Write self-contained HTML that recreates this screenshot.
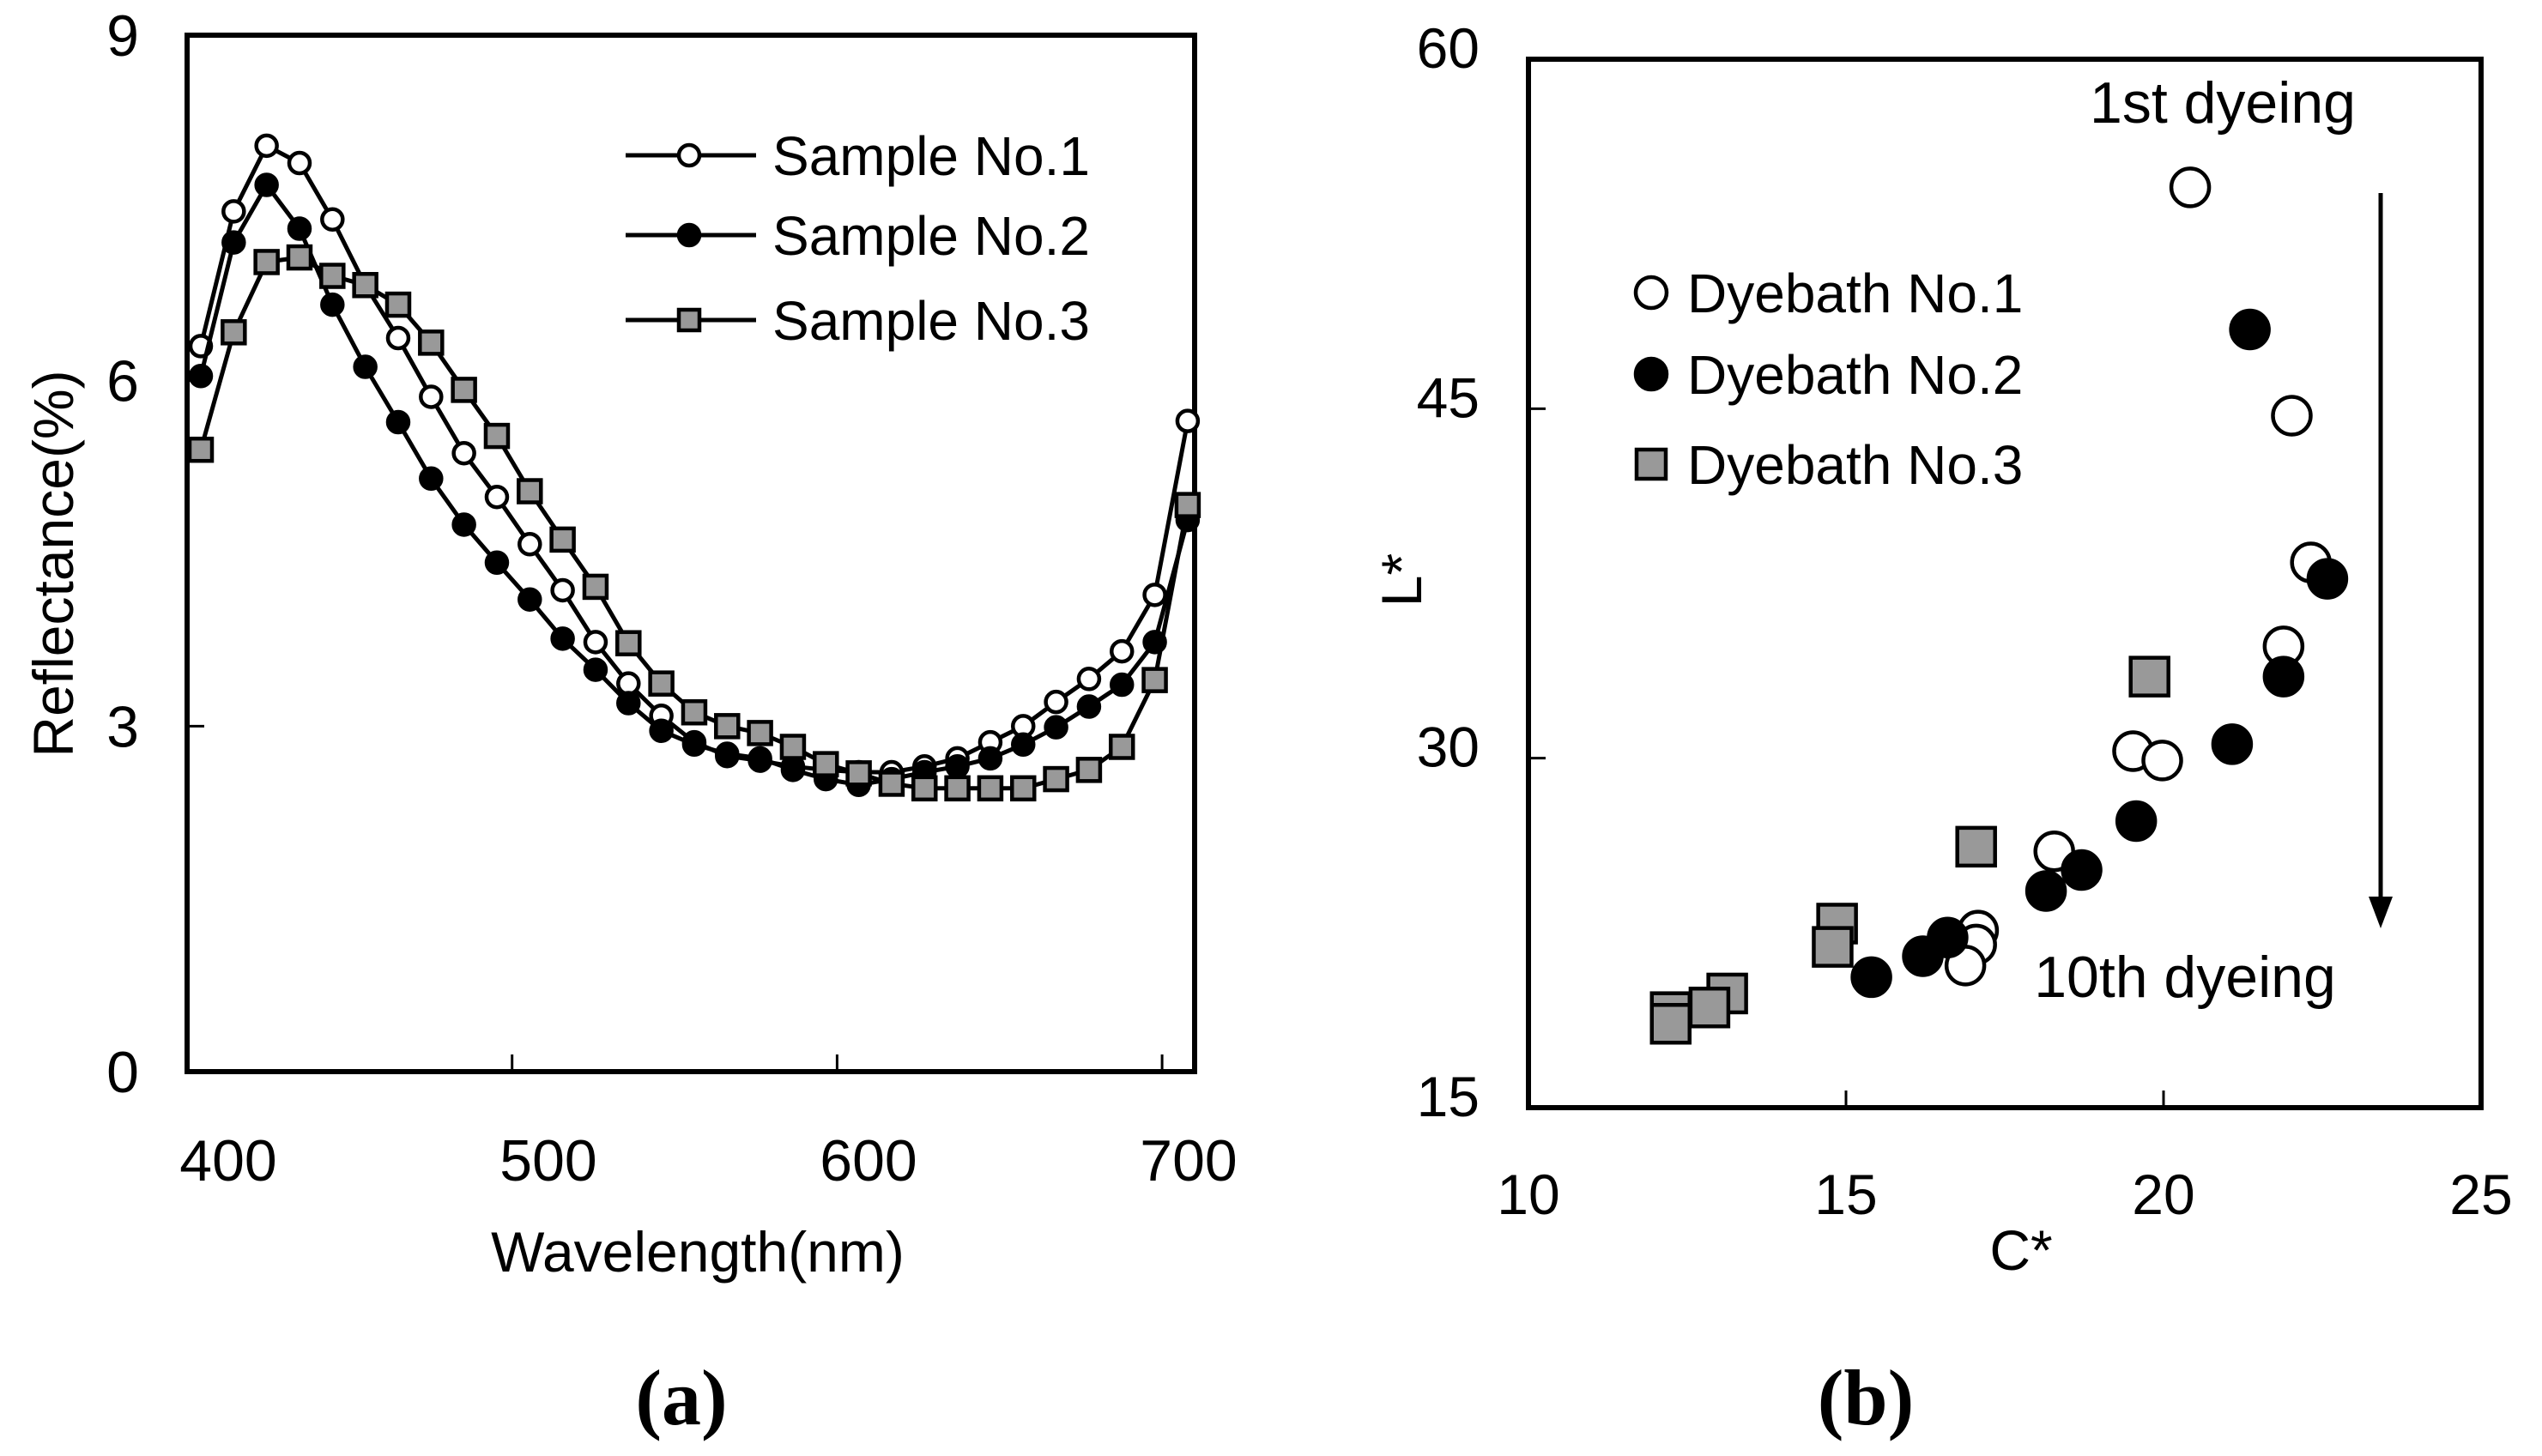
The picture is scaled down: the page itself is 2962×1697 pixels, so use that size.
<!DOCTYPE html>
<html><head><meta charset="utf-8">
<style>
html,body{margin:0;padding:0;background:#fff;}
svg{display:block;}
text{font-family:"Liberation Sans","Noto Sans CJK JP",sans-serif;fill:#000;}
.serif{font-family:"Liberation Serif",serif;font-weight:bold;}
</style></head>
<body>
<svg id="fig" width="2962" height="1697" viewBox="0 0 2962 1697" xmlns="http://www.w3.org/2000/svg">
<rect width="2962" height="1697" fill="#fff"/>
<g id="chartA"></g>
<g id="chartB"></g>
</svg>
<script>
// ---- Chart (a) data ----
const wavelengths = [400,410,420,430,440,450,460,470,480,490,500,510,520,530,540,550,560,570,580,590,600,610,620,630,640,650,660,670,680,690,700];
const sample1 = [6.30,7.47,8.04,7.89,7.40,6.83,6.37,5.86,5.37,4.99,4.58,4.18,3.73,3.37,3.09,2.86,2.74,2.70,2.65,2.62,2.60,2.60,2.65,2.72,2.86,3.00,3.21,3.41,3.65,4.14,5.65];
const sample2 = [6.04,7.20,7.70,7.32,6.66,6.12,5.64,5.15,4.75,4.42,4.10,3.76,3.49,3.20,2.96,2.84,2.76,2.72,2.62,2.54,2.49,2.54,2.60,2.65,2.72,2.84,2.99,3.17,3.36,3.73,4.79];
const sample3 = [5.40,6.42,7.03,7.07,6.91,6.83,6.66,6.33,5.92,5.52,5.04,4.62,4.21,3.72,3.37,3.12,3.00,2.94,2.82,2.67,2.59,2.50,2.46,2.46,2.46,2.46,2.54,2.62,2.82,3.40,4.92];
const xTicksA = [400,500,600,700];
const yTicksA = [0,3,6,9];
// ---- Chart (b) data ----
const dye1C = [20.42,22.02,22.32,21.89,19.52,19.98,18.28,17.08,17.05,16.88];
const dye1L = [54.5,44.7,38.4,34.8,30.3,29.9,26.0,22.6,22.0,21.1];
const dye2C = [21.36,22.58,21.89,21.08,19.57,18.71,18.15,16.60,16.21,15.40];
const dye2L = [48.4,37.7,33.5,30.6,27.3,25.2,24.3,22.3,21.5,20.6];
const dye3C = [19.78,17.05,14.86,14.79,13.13,12.85,12.24,12.24];
const dye3L = [33.5,26.2,22.9,21.9,19.9,19.3,19.1,18.6];
const xTicksB = [10,15,20,25];
const yTicksB = [15,30,45,60];

const NS="http://www.w3.org/2000/svg";
function mk(parent,tag,attrs){const e=document.createElementNS(NS,tag);for(const k in attrs)e.setAttribute(k,attrs[k]);parent.appendChild(e);return e;}
function txt(parent,x,y,s,size,anchor,extra){const t=mk(parent,'text',Object.assign({x:x,y:y,'font-size':size,'text-anchor':anchor||'middle'},extra||{}));t.textContent=s;return t;}

// ===== Chart A =====
const A=document.getElementById('chartA');
const aL=218,aR=1392,aT=41,aB=1249;
const xA=w=>234+(w-400)*3.833;
const xAt=w=>aL+(w-400)*3.787;
const xAl=w=>266+(w-400)*3.73;
const yA=v=>aB-v*(aB-aT)/9;
const frameA=mk(A,'rect',{x:aL,y:aT,width:aR-aL,height:aB-aT,fill:'none',stroke:'#000','stroke-width':6});


xTicksA.forEach(t=>{
  const l=mk(A,'line',{x1:xAt(t),x2:xAt(t),y1:aB,y2:aB-20,stroke:'#000','stroke-width':3});
  
  
  const lb=txt(A,xAl(t),1376,String(t),68);
  
  
});
yTicksA.forEach(t=>{
  const l=mk(A,'line',{x1:aL,x2:aL+20,y1:yA(t),y2:yA(t),stroke:'#000','stroke-width':3});
  
  
  const lb=txt(A,162,yA(t)+24,String(t),68,'end');
  
  
});
const xtA=txt(A,813,1482,'Wavelength(nm)',66);


const ytA=txt(A,0,0,'Reflectance(%)',66,'middle',{transform:'translate(85,657) rotate(-90)'});


const capA=txt(A,794,1660,'(a)',92,'middle',{class:'serif'});



function marker(g,type,cx,cy,size){
  if(type==='open') return mk(g,'circle',{cx:cx,cy:cy,r:size,fill:'#fff',stroke:'#000','stroke-width':4.5});
  if(type==='filled') return mk(g,'circle',{cx:cx,cy:cy,r:size,fill:'#000',stroke:'#000','stroke-width':4.5});
  return mk(g,'rect',{x:cx-size,y:cy-size,width:2*size,height:2*size,fill:'#999',stroke:'#000','stroke-width':4.5});
}
const seriesA=[[sample1,'open','sample-1'],[sample2,'filled','sample-2'],[sample3,'square','sample-3']];
seriesA.forEach(([vals,type,name])=>{
  const g=mk(A,'g',{});
  
  
  const pts=vals.map((v,i)=>xA(wavelengths[i]).toFixed(1)+','+yA(v).toFixed(1)).join(' ');
  const pl=mk(g,'polyline',{points:pts,fill:'none',stroke:'#000','stroke-width':5,'stroke-linejoin':'round'});
  
  
  vals.forEach((v,i)=>{
    const m=marker(g,type,xA(wavelengths[i]),yA(v),type==='square'?13:12);
    
    
  });
});
const legA=[['Sample No.1','open',181],['Sample No.2','filled',274],['Sample No.3','square',373]];
legA.forEach(([s,type,y])=>{
  const g=mk(A,'g',{});
  
  
  mk(g,'line',{x1:729,x2:881,y1:y,y2:y,stroke:'#000','stroke-width':5});
  marker(g,type,803,y,12);
  txt(g,900,y+23,s,64,'start');
});

// ===== Chart B =====
const B=document.getElementById('chartB');
const bL=1781,bR=2891,bT=69,bB=1291;
const xB=c=>bL+(c-10)*(bR-bL)/15;
const yB=v=>bB-(v-15)*(bB-bT)/45;
const frameB=mk(B,'rect',{x:bL,y:bT,width:bR-bL,height:bB-bT,fill:'none',stroke:'#000','stroke-width':6});


xTicksB.forEach(t=>{
  const l=mk(B,'line',{x1:xB(t),x2:xB(t),y1:bB,y2:bB-20,stroke:'#000','stroke-width':3});
  
  
  const lb=txt(B,xB(t),1415,String(t),66);
  
  
});
yTicksB.forEach(t=>{
  const l=mk(B,'line',{x1:bL,x2:bL+20,y1:yB(t),y2:yB(t),stroke:'#000','stroke-width':3});
  
  
  const lb=txt(B,1724,yB(t)+10,String(t),66,'end');
  
  
});
const xtB=txt(B,2355,1480,'C*',66);


const ytB=txt(B,0,0,'L*',66,'middle',{transform:'translate(1656,676) rotate(-90)'});


const capB=txt(B,2174,1660,'(b)',92,'middle',{class:'serif'});



const seriesB=[[dye3C,dye3L,'square','dyebath-3'],[dye1C,dye1L,'open','dyebath-1'],[dye2C,dye2L,'filled','dyebath-2']];
seriesB.forEach(([cs,ls,type,name])=>{
  const g=mk(B,'g',{});
  
  
  cs.forEach((c,i)=>{
    const m=marker(g,type,xB(c),yB(ls[i]),22);
    
    
  });
});
const legB=[['Dyebath No.1','open',341],['Dyebath No.2','filled',436],['Dyebath No.3','square',541]];
legB.forEach(([s,type,y])=>{
  const g=mk(B,'g',{});
  
  
  marker(g,type,1924,y,type==='square'?17:18);
  txt(g,1966,y+23,s,64,'start');
});
const t1=txt(B,2590,143,'1st dyeing',68);


const t10=txt(B,2546,1162,'10th dyeing',68);


const arr=mk(B,'g',{});


mk(arr,'line',{x1:2774,x2:2774,y1:225,y2:1050,stroke:'#000','stroke-width':5});
mk(arr,'polygon',{points:'2760,1045 2788,1045 2774,1082',fill:'#000'});
</script>
</body></html>
